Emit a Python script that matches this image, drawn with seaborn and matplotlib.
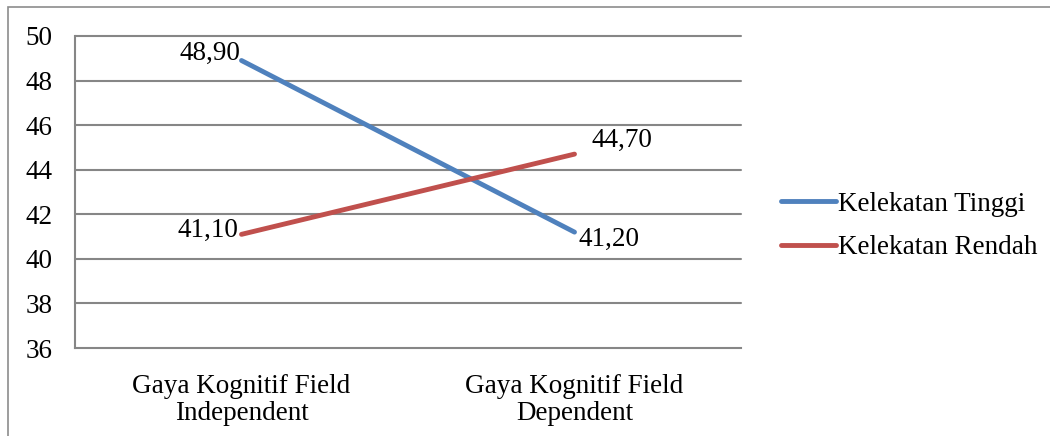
import matplotlib
matplotlib.use("Agg")
import matplotlib.pyplot as plt
import seaborn as sns
import pandas as pd
from matplotlib.patches import Rectangle

categories = ["Gaya Kognitif Field\nIndependent", "Gaya Kognitif Field\nDependent"]
series_names = ["Kelekatan Tinggi", "Kelekatan Rendah"]
tinggi = [48.90, 41.20]
rendah = [41.10, 44.70]
y_ticks = [36, 38, 40, 42, 44, 46, 48, 50]

rows = []
for name, vals in zip(series_names, [tinggi, rendah]):
    for i, v in enumerate(vals):
        rows.append({"pos": i, "value": v, "series": name})
df = pd.DataFrame(rows)

sns.set_style("white")
plt.rcParams["font.family"] = ["Liberation Serif", "DejaVu Serif"]
plt.rcParams["text.color"] = "black"
plt.rcParams["xtick.color"] = "black"
plt.rcParams["ytick.color"] = "black"

W, H = 1050, 436
fig = plt.figure(figsize=(W / 100, H / 100), dpi=100)
ax = fig.add_axes([75 / W, 1 - 348 / H, (741 - 75) / W, (348 - 36) / H])

palette = {"Kelekatan Tinggi": "#4F81BD", "Kelekatan Rendah": "#C0504D"}
sns.lineplot(data=df, x="pos", y="value", hue="series", palette=palette,
             linewidth=3.5, ax=ax, legend=False, solid_capstyle="round", zorder=3)

grid_c = "#868686"
fs = 19.5
ax.set_ylim(36, 50)
ax.set_yticks(y_ticks)
ax.set_yticklabels([str(t) for t in y_ticks], fontsize=fs)
ax.set_xlim(-0.5, 1.5)
ax.set_xticks([-0.5, 0.5, 1.5])
ax.set_xticklabels([])
ax.set_xticks([0, 1], minor=True)
ax.set_xticklabels(categories, minor=True, fontsize=19.5, linespacing=1.1)
ax.tick_params(axis="x", which="minor", length=0, pad=19)
ax.tick_params(axis="x", which="major", length=6, width=1.5, color=grid_c, direction="out")
ax.tick_params(axis="y", length=6, width=1.5, color=grid_c, labelcolor="black",
               direction="out", pad=10)
ax.set_xlabel("")
ax.set_ylabel("")

for t in y_ticks[1:]:
    ax.axhline(t, color=grid_c, linewidth=1.5, zorder=1, clip_on=False)
for s in ["top", "right"]:
    ax.spines[s].set_visible(False)
for s in ["left", "bottom"]:
    ax.spines[s].set_color(grid_c)
    ax.spines[s].set_linewidth(1.5)

def fmt(v):
    return f"{v:.2f}".replace(".", ",")

ax.annotate(fmt(tinggi[0]), (0, tinggi[0]), xytext=(-1, 5), textcoords="offset points",
            ha="right", va="center", fontsize=fs)
ax.annotate(fmt(tinggi[1]), (1, tinggi[1]), xytext=(3, -5), textcoords="offset points",
            ha="left", va="center", fontsize=fs)
ax.annotate(fmt(rendah[0]), (0, rendah[0]), xytext=(-2, 3), textcoords="offset points",
            ha="right", va="center", fontsize=fs)
ax.annotate(fmt(rendah[1]), (1, rendah[1]), xytext=(12, 10), textcoords="offset points",
            ha="left", va="center", fontsize=fs)

handles = [plt.Line2D([0], [0], color=palette[n], linewidth=3.5, solid_capstyle="round")
           for n in series_names]
fig.legend(handles, series_names, loc="center left",
           bbox_to_anchor=(776 / W, 1 - 226 / H), frameon=False, fontsize=fs,
           handlelength=2.0, handletextpad=0.1, labelspacing=0.68,
           borderaxespad=0, borderpad=0.2)

fig.patches.append(Rectangle((8 / W, -0.1), 1.2, 1 - 7 / H + 0.1,
                             transform=fig.transFigure, fill=False,
                             edgecolor="#8C8C8C", linewidth=1.2))

fig.savefig("out.png", dpi=100)
